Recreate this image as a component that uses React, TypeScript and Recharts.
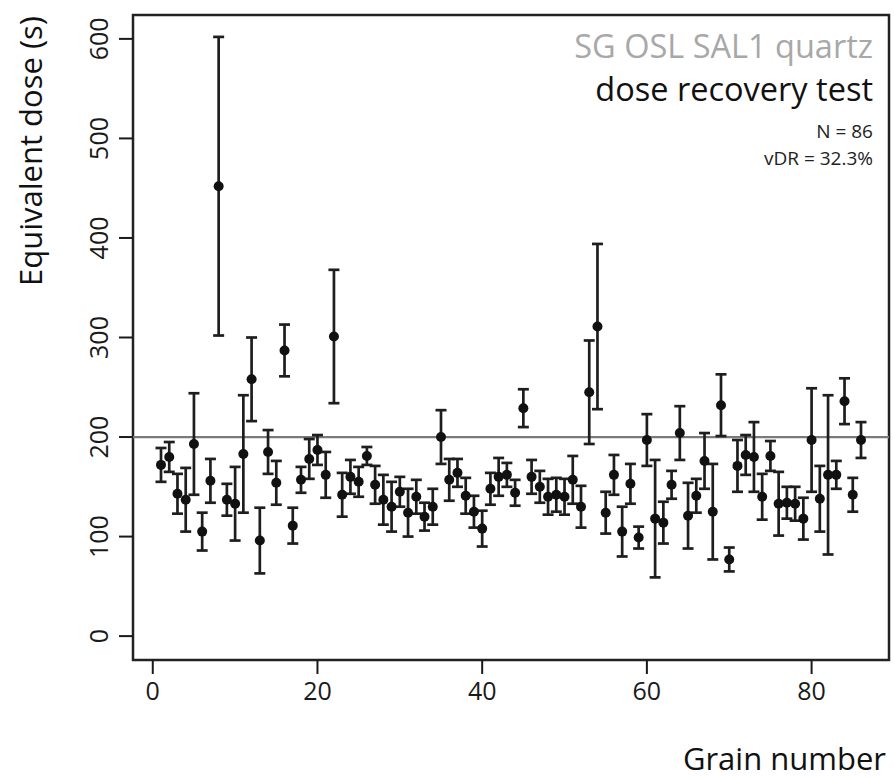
import React from "react";
import {
  ScatterChart,
  Scatter,
  XAxis,
  YAxis,
  ErrorBar,
  ReferenceLine,
  ReferenceArea,
} from "recharts";

// Equivalent dose (s) per grain
const doseValues: number[] = [
  172, 180, 143, 137, 193, 105, 156, 452, 137, 133,
  183, 258, 96, 185, 154, 287, 111, 157, 178, 187,
  162, 301, 142, 160, 155, 181, 152, 137, 130, 145,
  124, 140, 120, 130, 200, 157, 164, 141, 125, 108,
  148, 160, 162, 144, 229, 160, 150, 140, 142, 140,
  157, 130, 245, 311, 124, 162, 105, 153, 99, 197,
  118, 114, 152, 204, 121, 141, 176, 125, 232, 77,
  171, 182, 180, 140, 181, 133, 134, 133, 118, 197,
  138, 162, 162, 236, 142, 197,
];

// Symmetric 1-sigma errors (s)
const doseErrors: number[] = [
  17, 15, 20, 32, 51, 19, 22, 150, 16, 37,
  59, 42, 33, 22, 22, 26, 18, 13, 20, 15,
  23, 67, 22, 17, 15, 9, 19, 25, 25, 15,
  24, 17, 14, 18, 27, 21, 14, 18, 16, 18,
  16, 19, 12, 13, 19, 17, 16, 18, 17, 18,
  24, 21, 52, 83, 21, 20, 25, 20, 11, 26,
  59, 21, 14, 27, 33, 17, 28, 48, 31, 12,
  26, 20, 35, 23, 15, 32, 16, 17, 21, 52,
  33, 80, 14, 23, 17, 18,
];

const xTicks: number[] = [0, 20, 40, 60, 80];
const yTicks: number[] = [0, 100, 200, 300, 400, 500, 600];
const xDomain: [number, number] = [-2.4, 89.4];
const yDomain: [number, number] = [-24, 624];
const givenDose = 200;

const titleLine1 = "SG OSL SAL1 quartz";
const titleLine2 = "dose recovery test";
const statN = "N = 86";
const statVDR = "vDR = 32.3%";
const xLabel = "Grain number";
const yLabel = "Equivalent dose (s)";

const data = doseValues.map((v, i) => ({
  grain: i + 1,
  dose: v,
  err: doseErrors[i],
}));

const FONT = "'Open Sans', 'Noto Sans', sans-serif";
const INK = "#1a1a1a";

const XTick = (props: any) => {
  const { x, y, payload } = props;
  return (
    <text
      x={x}
      y={y}
      dy="0.72em"
      textAnchor="middle"
      fontSize={25}
      fontFamily={FONT}
      fill={INK}
    >
      {payload.value}
    </text>
  );
};

const YTick = (props: any) => {
  const { x, y, payload } = props;
  return (
    <text
      x={x}
      y={y}
      transform={`rotate(-90, ${x}, ${y})`}
      textAnchor="middle"
      fontSize={25}
      fontFamily={FONT}
      fill={INK}
    >
      {payload.value}
    </text>
  );
};

const Dot = (props: any) => {
  const { cx, cy } = props;
  return <circle cx={cx} cy={cy} r={5} fill="#111" />;
};

export default function App() {
  return (
    <div
      style={{
        position: "absolute",
        left: 0,
        top: 0,
        width: 894,
        height: 778,
        background: "#fff",
      }}
    >
      <ScatterChart
        width={894}
        height={778}
        margin={{ top: 15, right: 5, bottom: 0, left: 0 }}
      >
        <XAxis
          type="number"
          dataKey="grain"
          domain={xDomain}
          ticks={xTicks}
          allowDataOverflow
          height={118}
          tickSize={14}
          tickMargin={8}
          axisLine={false}
          tickLine={{ stroke: INK, strokeWidth: 2 }}
          tick={<XTick />}
        />
        <YAxis
          type="number"
          dataKey="dose"
          domain={yDomain}
          ticks={yTicks}
          allowDataOverflow
          width={133}
          tickSize={14}
          tickMargin={11}
          axisLine={false}
          tickLine={{ stroke: INK, strokeWidth: 2 }}
          tick={<YTick />}
        />
        <ReferenceArea
          x1={xDomain[0]}
          x2={xDomain[1]}
          y1={yDomain[0]}
          y2={yDomain[1]}
          fill="none"
          fillOpacity={0}
          stroke="#222"
          strokeWidth={2.5}
          ifOverflow="visible"
        />
        <ReferenceLine y={givenDose} stroke="#7a7a7a" strokeWidth={2.2} />
        <Scatter data={data} shape={<Dot />} isAnimationActive={false}>
          <ErrorBar
            dataKey="err"
            direction="y"
            width={5.5}
            stroke="#1e1e1e"
            strokeWidth={2.7}
            isAnimationActive={false}
          />
        </Scatter>
      </ScatterChart>
      <svg
        width={894}
        height={778}
        style={{ position: "absolute", left: 0, top: 0, pointerEvents: "none" }}
      >
        <text x={873} y={58} textAnchor="end" fontSize={32.5} fontFamily={FONT} fill="#a8a8a8">
          {titleLine1}
        </text>
        <text x={873} y={101} textAnchor="end" fontSize={32.5} fontFamily={FONT} fill="#111">
          {titleLine2}
        </text>
        <text x={873} y={138} textAnchor="end" fontSize={19} fontFamily={FONT} fill="#222">
          {statN}
        </text>
        <text x={873} y={165} textAnchor="end" fontSize={19} fontFamily={FONT} fill="#222">
          {statVDR}
        </text>
        <text x={886} y={770} textAnchor="end" fontSize={31} fontFamily={FONT} fill="#111">
          {xLabel}
        </text>
        <text
          x={42}
          y={16}
          transform="rotate(-90, 42, 16)"
          textAnchor="end"
          fontSize={31}
          fontFamily={FONT}
          fill="#111"
        >
          {yLabel}
        </text>
      </svg>
    </div>
  );
}
